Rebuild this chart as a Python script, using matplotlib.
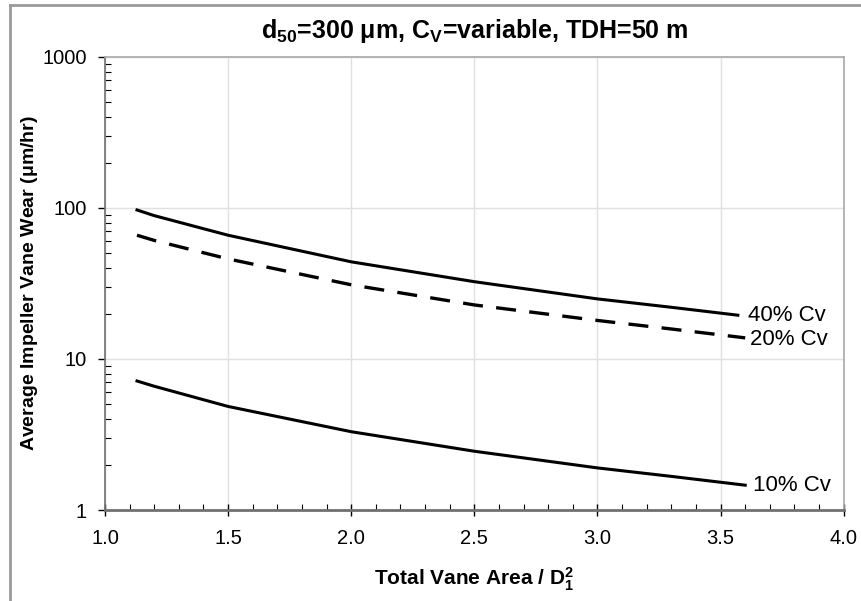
import numpy as np
import matplotlib
matplotlib.use('Agg')
import matplotlib.pyplot as plt
from matplotlib.lines import Line2D
from matplotlib.ticker import MultipleLocator, LogLocator, NullFormatter

plt.rcParams['font.family'] = ['Liberation Sans', 'DejaVu Sans']
plt.rcParams['mathtext.fontset'] = 'custom'
plt.rcParams['mathtext.rm'] = 'Liberation Sans:bold'
plt.rcParams['mathtext.it'] = 'Liberation Sans:bold'
plt.rcParams['mathtext.bf'] = 'Liberation Sans:bold'

# data
area = [1.13, 1.2, 1.5, 2.0, 2.5, 3.0, 3.3, 3.57]
wear_40 = [97, 89, 66, 44, 32.5, 25, 22, 19.5]
area_20 = [1.13, 1.2, 1.5, 2.0, 2.5, 3.0, 3.3, 3.6]
wear_20 = [66, 61, 46, 31, 22.8, 18, 15.8, 13.8]
area_10 = [1.13, 1.2, 1.5, 2.0, 2.5, 3.0, 3.3, 3.6]
wear_10 = [7.15, 6.6, 4.85, 3.3, 2.45, 1.9, 1.67, 1.46]
labels = ['40% Cv', '20% Cv', '10% Cv']

fig = plt.figure(figsize=(8.62, 6.01), dpi=100)
ax = fig.add_axes([0.1218, 0.1514, 0.857, 0.7538])

ax.plot(area, wear_40, color='black', lw=2.2)
ax.plot(area_20, wear_20, color='black', lw=2.4, dashes=(6, 4))
ax.plot(area_10, wear_10, color='black', lw=2.2)

# end labels
ax.text(area[-1] + 0.04, wear_40[-1], labels[0], fontsize=16, va='center', ha='left')
ax.text(area_20[-1] + 0.02, wear_20[-1] * 0.97, labels[1], fontsize=16, va='center', ha='left')
ax.text(area_10[-1] + 0.03, wear_10[-1], labels[2], fontsize=16, va='center', ha='left')

ax.set_yscale('log')
ax.set_xlim(1.0, 4.0)
ax.set_ylim(1, 1000)
ax.set_xticks([1.0, 1.5, 2.0, 2.5, 3.0, 3.5, 4.0])
ax.set_xticklabels(['1.0', '1.5', '2.0', '2.5', '3.0', '3.5', '4.0'])
ax.set_yticks([1, 10, 100, 1000])
ax.set_yticklabels(['1', '10', '100', '1000'])
ax.xaxis.set_minor_locator(MultipleLocator(0.1))
ax.yaxis.set_minor_locator(LogLocator(base=10, subs=np.arange(2, 10)))
ax.yaxis.set_minor_formatter(NullFormatter())

ax.tick_params(which='major', direction='out', length=5, width=1, colors='black', labelsize=14.5, pad=8)
ax.tick_params(which='minor', direction='in', length=4, width=0.8, colors='black')
ax.tick_params(axis='x', which='major', direction='inout', length=8, pad=10)
ax.grid(True, which='major', color='#e0e0e0', lw=1)
for s in ax.spines.values():
    s.set_color('#a8a8a8')
    s.set_linewidth(1.2)
ax.spines['left'].set_color('#707070')
ax.spines['bottom'].set_color('#707070')
ax.spines['bottom'].set_linewidth(2)

ax.set_title(r'd$_{50}$=300 $\mu$m, C$_{V}$=variable, TDH=50 m',
             fontsize=18, fontweight='bold', pad=14)
ax.set_xlabel(r'Total Vane Area / D$_1^2$', fontsize=15, fontweight='bold', labelpad=12)
ax.set_ylabel(r'Average Impeller Vane Wear ($\mu$m/hr)', fontsize=14, fontweight='bold')
ax.yaxis.set_label_coords(-0.088, 0.5)

# outer frame (top and left edges)
fig.add_artist(Line2D([0.0116, 1.0], [0.992, 0.992], transform=fig.transFigure, color='#9a9a9a', lw=2))
fig.add_artist(Line2D([0.0116, 0.0116], [0.0, 0.992], transform=fig.transFigure, color='#9a9a9a', lw=2))

fig.savefig('out.png', dpi=100)
